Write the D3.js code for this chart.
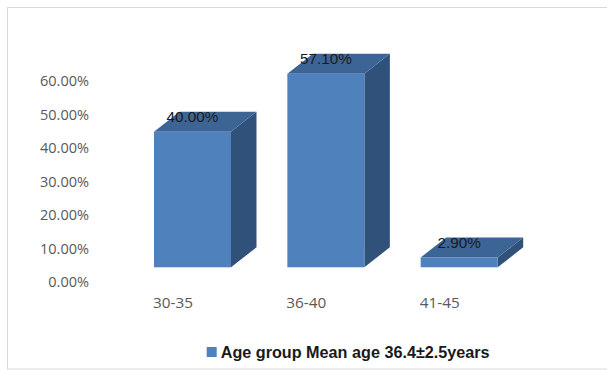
<!DOCTYPE html>
<html><head><meta charset="utf-8">
<script src="https://cdn.jsdelivr.net/npm/d3@7"></script>
<style>body{margin:0;background:#fff}svg{display:block}</style>
</head><body>
<svg id="c" width="607" height="370"></svg>
<script>
const categories = ["30-35", "36-40", "41-45"];
const values = [40.0, 57.1, 2.9];
const valueLabels = ["40.00%", "57.10%", "2.90%"];
const tickValues = [0, 10, 20, 30, 40, 50, 60];
const legendLabel = "Age group Mean age 36.4\u00b12.5years";

const svg = d3.select("#c");
svg.append("rect").attr("x", 7.5).attr("y", 7.5).attr("width", 610).attr("height", 361.5)
  .attr("fill", "#fff").attr("stroke", "#d9d9d9").attr("stroke-width", 1);

// size a font so that a sample string has a given width
function fitSize(family, weight, sample, target) {
  const t = svg.append("text").style("font-family", family).style("font-weight", weight)
    .style("font-size", "20px").text(sample);
  const w = t.node().getComputedTextLength();
  t.remove();
  return 20 * target / w;
}
const sansA = "'Open Sans', 'Noto Sans', sans-serif";
const sansB = "'Liberation Sans', Arial, sans-serif";
const axisSize = fitSize(sansA, "normal", "60.00%", 49);
const catSize = fitSize(sansA, "normal", "30-35", 40);
const valSize = fitSize(sansB, "normal", "40.00%", 52);
const legSize = fitSize(sansB, "bold", legendLabel, 269);

const x = d3.scaleBand().domain(categories).range([154, 497.7]).paddingInner(0.4225).paddingOuter(0);
const yBar = d3.scaleLinear().domain([0, 60]).range([267.3, 267.3 - 60 * 3.39]);
const yAxis = d3.scaleLinear().domain([0, 60]).range([282.3, 80.8]);
const dx = 25.5, dy = 20;

// Y axis labels
const ax = svg.append("g").attr("transform", "translate(89,0)")
  .call(d3.axisLeft(yAxis).tickValues(tickValues).tickSize(0).tickPadding(0)
    .tickFormat(d => d.toFixed(2) + "%"));
ax.select(".domain").remove();
ax.selectAll("text").attr("fill", "#595959").style("font-family", sansA)
  .style("font-size", axisSize + "px");

// bars
const bars = svg.append("g").selectAll("g").data(values).join("g");
bars.append("path").attr("fill", "#30527a").attr("d", (d, i) => {
  const x1 = x(categories[i]) + x.bandwidth(), y0 = yBar(0), y1 = yBar(d);
  return `M${x1},${y1}L${x1 + dx},${y1 - dy}L${x1 + dx},${y0 - dy}L${x1},${y0}Z`;
});
bars.append("path").attr("fill", "#3c6595").attr("d", (d, i) => {
  const x0 = x(categories[i]), x1 = x0 + x.bandwidth(), y1 = yBar(d);
  return `M${x0},${y1}L${x0 + dx},${y1 - dy}L${x1 + dx},${y1 - dy}L${x1},${y1}Z`;
});
bars.append("rect").attr("fill", "#4f81bd")
  .attr("x", (d, i) => x(categories[i])).attr("width", x.bandwidth())
  .attr("y", d => yBar(d)).attr("height", d => yBar(0) - yBar(d));

// value labels
svg.append("g").selectAll("text").data(values).join("text")
  .attr("x", (d, i) => x(categories[i]) + x.bandwidth() / 2)
  .attr("y", d => yBar(d) - 9.5)
  .attr("text-anchor", "middle").attr("fill", "#1a1a1a")
  .style("font-family", sansB).style("font-size", valSize + "px")
  .text((d, i) => valueLabels[i]);

// category labels
svg.append("g").selectAll("text").data(categories).join("text")
  .attr("x", d => x(d) - 1).attr("y", 308)
  .attr("fill", "#595959")
  .style("font-family", sansA).style("font-size", catSize + "px")
  .text(d => d);

// legend
svg.append("rect").attr("x", 206.7).attr("y", 347).attr("width", 10).attr("height", 10).attr("fill", "#4f81bd");
svg.append("text").attr("x", 220.7).attr("y", 352).attr("dy", "0.35em")
  .attr("fill", "#1a1a1a").style("font-family", sansB)
  .style("font-weight", "bold").style("font-size", legSize + "px").text(legendLabel);
</script>
</body></html>
